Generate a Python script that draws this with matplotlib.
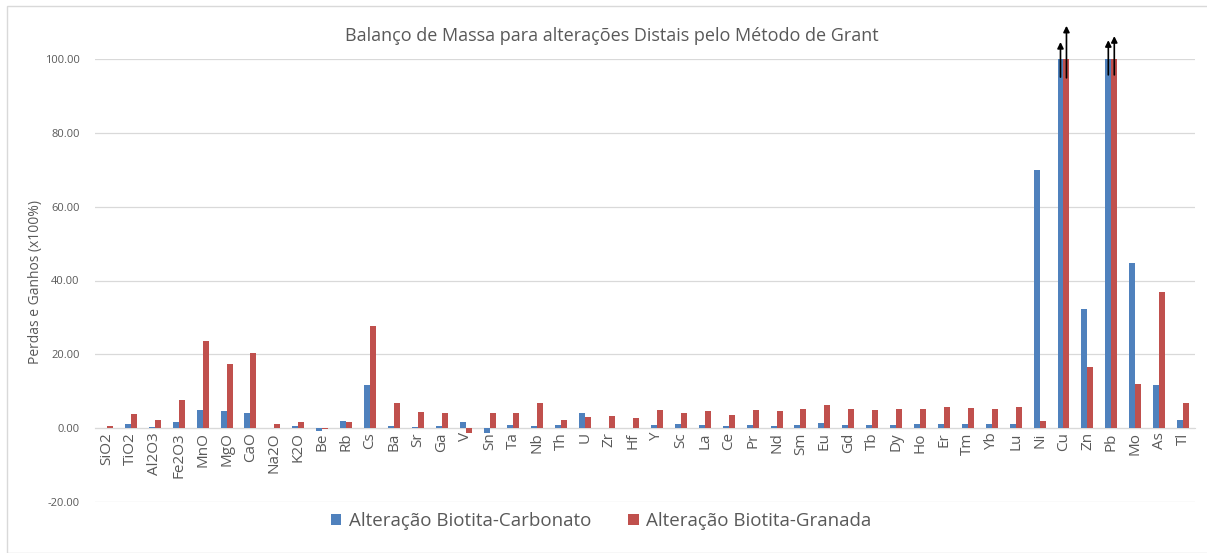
import numpy as np
import matplotlib.pyplot as plt
from matplotlib.patches import Rectangle

plt.rcParams['font.family'] = ['Open Sans', 'DejaVu Sans']

elements = ['SiO2', 'TiO2', 'Al2O3', 'Fe2O3', 'MnO', 'MgO', 'CaO', 'Na2O', 'K2O',
            'Be', 'Rb', 'Cs', 'Ba', 'Sr', 'Ga', 'V', 'Sn', 'Ta', 'Nb', 'Th', 'U',
            'Zr', 'Hf', 'Y', 'Sc', 'La', 'Ce', 'Pr', 'Nd', 'Sm', 'Eu', 'Gd', 'Tb',
            'Dy', 'Ho', 'Er', 'Tm', 'Yb', 'Lu', 'Ni', 'Cu', 'Zn', 'Pb', 'Mo', 'As', 'Tl']

# Alteração Biotita-Carbonato
carbonato = [0.0, 1.2, 0.4, 1.6, 5.0, 4.6, 4.2, 0.0, 0.5,
             -0.8, 2.0, 11.7, 0.6, 0.4, 0.7, 1.7, -1.2, 0.9, 0.7, 0.9, 4.0,
             0.0, 0.0, 0.9, 1.2, 0.9, 0.5, 0.9, 0.7, 0.9, 1.4, 0.9, 0.9,
             0.9, 1.1, 1.1, 1.1, 1.1, 1.1, 70.0, 100.0, 32.3, 100.0, 44.7, 11.6, 2.3]

# Alteração Biotita-Granada
granada = [0.7, 3.8, 2.3, 7.7, 23.6, 17.3, 20.4, 1.1, 1.6,
           -0.3, 1.8, 27.6, 6.8, 4.4, 4.2, -1.2, 4.0, 4.0, 6.8, 2.2, 3.0,
           3.2, 2.8, 4.9, 4.0, 4.6, 3.5, 4.8, 4.6, 5.1, 6.4, 5.1, 5.0,
           5.3, 5.3, 5.8, 5.4, 5.3, 5.8, 2.0, 100.0, 16.5, 100.0, 11.9, 36.9, 6.8]

# off-scale arrows: (element, series, tail, head)
arrows = [('Cu', 0, 95.1, 104.6), ('Cu', 1, 94.9, 109.0),
          ('Pb', 0, 95.7, 105.1), ('Pb', 1, 95.7, 106.2)]

blue = '#4F81BD'
red = '#C0504D'
grey = '#595959'

fig = plt.figure(figsize=(12.07, 5.53), dpi=100)
ax = fig.add_axes([95 / 1207, 51 / 553, 1100 / 1207, 443 / 553])

x = np.arange(len(elements))
w = 0.25
ax.bar(x - w / 2, carbonato, w, color=blue, label='Alteração Biotita-Carbonato', zorder=3)
ax.bar(x + w / 2, granada, w, color=red, label='Alteração Biotita-Granada', zorder=3)

# x axis crosses at zero (set before tick labels, it resets ticks)
ax.spines['bottom'].set_position(('data', 0))
ax.spines['bottom'].set_color('#D9D9D9')
for s in ['top', 'right', 'left']:
    ax.spines[s].set_visible(False)

ax.set_xlim(-0.5, len(elements) - 0.5)
ax.set_ylim(-20, 100)
ax.set_yticks(np.arange(-20, 101, 20))
ax.set_yticklabels(['%.2f' % v for v in np.arange(-20, 101, 20)], fontsize=8, color=grey)
ax.yaxis.grid(True, color='#D9D9D9', linewidth=0.9, zorder=0)
ax.tick_params(axis='y', length=0, pad=11)

ax.set_xticks(x)
ax.set_xticklabels(elements, rotation=90, fontsize=11, color=grey)
ax.tick_params(axis='x', length=0, pad=3)

for el, k, y0, y1 in arrows:
    xi = elements.index(el) + (-w / 2 if k == 0 else w / 2)
    ax.annotate('', xy=(xi, y1), xytext=(xi, y0), annotation_clip=False,
                arrowprops=dict(arrowstyle='-|>', color='black', lw=1.2,
                                mutation_scale=9, shrinkA=0, shrinkB=0), zorder=5)

fig.text(36 / 1207, 1 - 282 / 553, 'Perdas e Ganhos (x100%)', rotation=90,
         ha='center', va='center', fontsize=10, color=grey)
fig.text(0.507, 0.935, 'Balanço de Massa para alterações Distais pelo Método de Grant',
         ha='center', va='center', fontsize=13, color=grey)

fig.legend(loc='center', bbox_to_anchor=(0.498, 32 / 553), ncol=2, frameon=False,
           fontsize=13.5, labelcolor=grey, handlelength=0.55, handleheight=0.55,
           handletextpad=0.4, columnspacing=2.0)

fig.patches.append(Rectangle((7 / 1207, 0), 1.2, 547 / 553, transform=fig.transFigure,
                             fill=False, edgecolor='#D9D9D9', linewidth=1))

fig.savefig('out.png', dpi=100)
